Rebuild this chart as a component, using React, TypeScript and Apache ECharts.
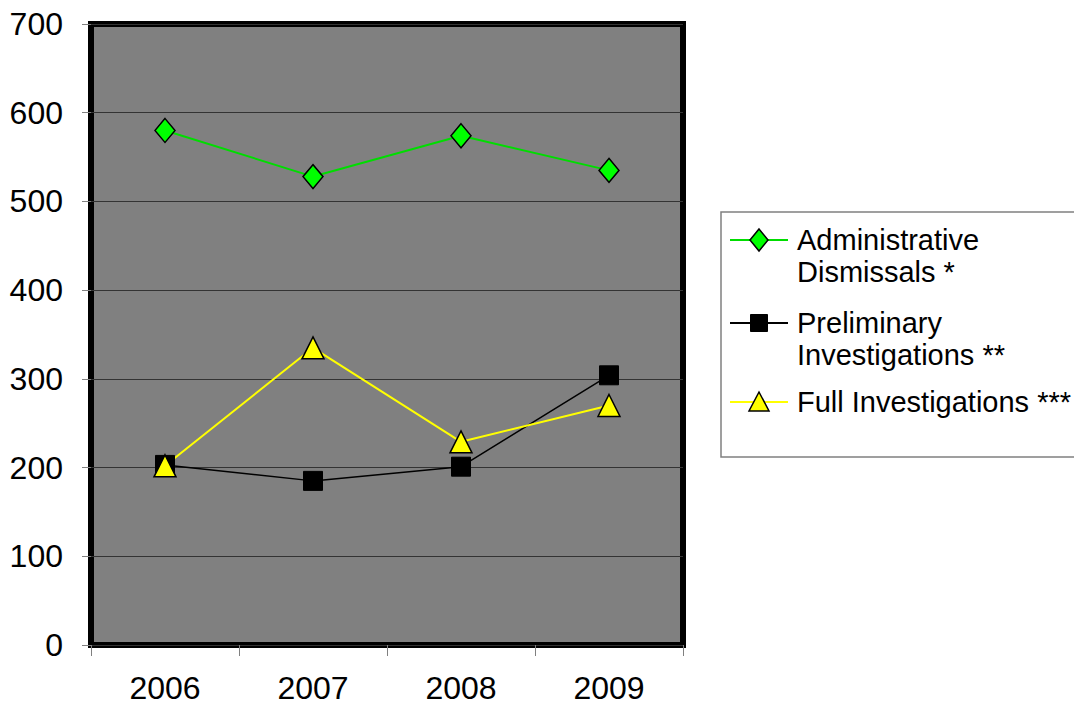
import React, { useEffect, useRef } from "react";
import * as echarts from "echarts";

const years = ["2006", "2007", "2008", "2009"];
const adminDismissals = [580, 528, 574, 535];
const preliminaryInvestigations = [203, 185, 201, 304];
const fullInvestigations = [202, 335, 229, 270];
const seriesNames = [
  "Administrative\nDismissals *",
  "Preliminary\nInvestigations **",
  "Full Investigations ***",
];
const yTicks = { min: 0, max: 700, interval: 100 };

const FONT = "'Liberation Sans', Arial, sans-serif";

export default function App() {
  const ref = useRef<HTMLDivElement>(null);
  useEffect(() => {
    document.body.style.margin = "0";
    if (!ref.current) return;
    const chart = echarts.init(ref.current, undefined, { renderer: "svg" });

    const legendX = 730;
    const legendLineW = 58;
    const mid = legendX + legendLineW / 2;
    const itemY = [240, 323, 402];
    const styles = [
      { line: "#00DD00", fill: "#00FF00", shape: "diamond" },
      { line: "#000000", fill: "#000000", shape: "square" },
      { line: "#FFFF00", fill: "#FFFF00", shape: "triangle" },
    ];
    const legendGraphics: any[] = [
      {
        type: "rect",
        shape: { x: 721, y: 212, width: 360, height: 245 },
        style: { fill: "#ffffff", stroke: "#808080", lineWidth: 1.5 },
      },
    ];
    styles.forEach((s, i) => {
      const y = itemY[i];
      legendGraphics.push({
        type: "line",
        shape: { x1: legendX, y1: y, x2: legendX + legendLineW, y2: y },
        style: { stroke: s.line, lineWidth: 2 },
      });
      if (s.shape === "diamond") {
        legendGraphics.push({
          type: "polygon",
          shape: { points: [[mid, y - 11], [mid + 9, y], [mid, y + 11], [mid - 9, y]] },
          style: { fill: s.fill, stroke: "#000", lineWidth: 1.5 },
        });
      } else if (s.shape === "square") {
        legendGraphics.push({
          type: "rect",
          shape: { x: mid - 8.5, y: y - 8.5, width: 17, height: 17 },
          style: { fill: s.fill, stroke: "#000", lineWidth: 1 },
        });
      } else {
        legendGraphics.push({
          type: "polygon",
          shape: { points: [[mid, y - 10], [mid + 10, y + 9], [mid - 10, y + 9]] },
          style: { fill: s.fill, stroke: "#000", lineWidth: 1.5 },
        });
      }
      legendGraphics.push({
        type: "text",
        x: 797,
        y: y - 16,
        style: {
          text: seriesNames[i],
          fontSize: 29,
          fontFamily: FONT,
          lineHeight: 32,
          fill: "#000",
          verticalAlign: "top",
          align: "left",
        },
      });
    });

    chart.setOption({
      animation: false,
      textStyle: { fontFamily: FONT },
      grid: {
        left: 91,
        top: 24,
        right: 391,
        bottom: 65,
        show: true,
        backgroundColor: "#808080",
        borderColor: "#000000",
        borderWidth: 6,
      },
      xAxis: {
        type: "category",
        data: years,
        boundaryGap: true,
        axisLine: { show: false },
        axisTick: { show: true, length: 11, lineStyle: { color: "#808080", width: 1 } },
        axisLabel: { fontSize: 32, color: "#000", margin: 27, fontFamily: FONT },
        splitLine: { show: false },
      },
      yAxis: {
        type: "value",
        min: yTicks.min,
        max: yTicks.max,
        interval: yTicks.interval,
        axisLine: { show: false },
        axisTick: { show: true, length: 9, lineStyle: { color: "#808080", width: 1 } },
        axisLabel: { fontSize: 32, color: "#000", margin: 28, fontFamily: FONT },
        splitLine: { show: true, lineStyle: { color: "#333333", width: 1 } },
      },
      series: [
        {
          name: seriesNames[0],
          type: "line",
          data: adminDismissals,
          symbol: "diamond",
          symbolSize: [20, 24],
          lineStyle: { color: "#00DD00", width: 2 },
          itemStyle: { color: "#00FF00", borderColor: "#000", borderWidth: 1.5 },
        },
        {
          name: seriesNames[1],
          type: "line",
          data: preliminaryInvestigations,
          symbol: "rect",
          symbolSize: 19,
          lineStyle: { color: "#000000", width: 1.5 },
          itemStyle: { color: "#000000", borderColor: "#000", borderWidth: 1 },
        },
        {
          name: seriesNames[2],
          type: "line",
          data: fullInvestigations,
          symbol: "triangle",
          symbolSize: [22, 22],
          lineStyle: { color: "#FFFF00", width: 2 },
          itemStyle: { color: "#FFFF00", borderColor: "#000", borderWidth: 1.5 },
        },
      ],
      graphic: legendGraphics,
    });
    return () => chart.dispose();
  }, []);
  return <div ref={ref} style={{ width: 1074, height: 710 }} />;
}
